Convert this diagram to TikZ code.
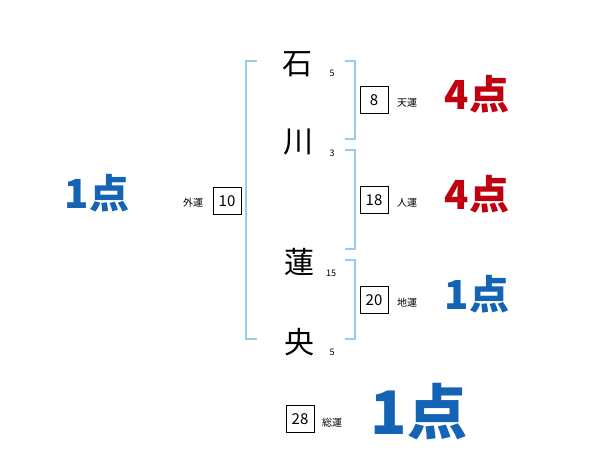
\documentclass[tikz,border=0pt]{standalone}
\usepackage{fontspec}
\setmainfont{Noto Sans CJK JP}
\usepackage{tikz}

\definecolor{bracketblue}{HTML}{9CCBEA}
\definecolor{goodred}{HTML}{C00010}
\definecolor{badblue}{HTML}{1463B4}

\tikzset{
    kanji/.style={font=\fontsize{30}{30}\selectfont},
    strokes/.style={font=\fontsize{9}{9}\selectfont},
    numbox/.style={draw, line width=0.8pt, minimum width=28pt, minimum height=27pt, inner sep=0pt, font=\fontsize{15}{15}\selectfont},
    unlabel/.style={font=\fontsize{10}{10}\selectfont},
    score/.style={font=\fontsize{40}{40}\selectfont\bfseries},
    bracket/.style={draw=bracketblue, line width=1.3pt}
}

\begin{document}
\begin{tikzpicture}[x=1pt, y=-1pt]
    \useasboundingbox (0,0) rectangle (600,470);

    % name characters
    \node[kanji] (c1) at (297,64) {石};
    \node[kanji] (c2) at (298,142) {川};
    \node[kanji] (c3) at (299,262) {蓮};
    \node[kanji] (c4) at (299,342) {央};

    % stroke counts
    \node[strokes] (s1) at (332,73) {5};
    \node[strokes] (s2) at (332,153) {3};
    \node[strokes] (s3) at (331,273) {15};
    \node[strokes] (s4) at (332,352) {5};

    % brackets
    \draw[bracket] (257,61) -- (246,61) -- (246,339) -- (257,339); % outer
    \draw[bracket] (345,61) -- (355,61) -- (355,139) -- (345,139); % heaven
    \draw[bracket] (345,150) -- (355,150) -- (355,249) -- (345,249); % person
    \draw[bracket] (345,260) -- (355,260) -- (355,339) -- (345,339); % earth

    % outer luck
    \node[numbox] (gai) at (227,201) {10};
    \node[unlabel] (gail) at (193,203) {外運};
    \node[score, text=badblue] (gais) at (97,193) {1点};

    % heaven luck
    \node[numbox] (ten) at (374,100) {8};
    \node[unlabel] (tenl) at (407,103) {天運};
    \node[score, text=goodred] (tens) at (477,94) {4点};

    % person luck
    \node[numbox] (jin) at (374,200) {18};
    \node[unlabel] (jinl) at (407,203) {人運};
    \node[score, text=goodred] (jins) at (477,194) {4点};

    % earth luck
    \node[numbox] (chi) at (374,300) {20};
    \node[unlabel] (chil) at (407,303) {地運};
    \node[score, text=badblue] (chis) at (477,294) {1点};

    % total luck
    \node[numbox] (sou) at (300,419) {28};
    \node[unlabel] (soul) at (332,423) {総運};
    \node[score, text=badblue, font=\fontsize{60}{60}\selectfont\bfseries] (sous) at (419,412) {1点};

\end{tikzpicture}
\end{document}
